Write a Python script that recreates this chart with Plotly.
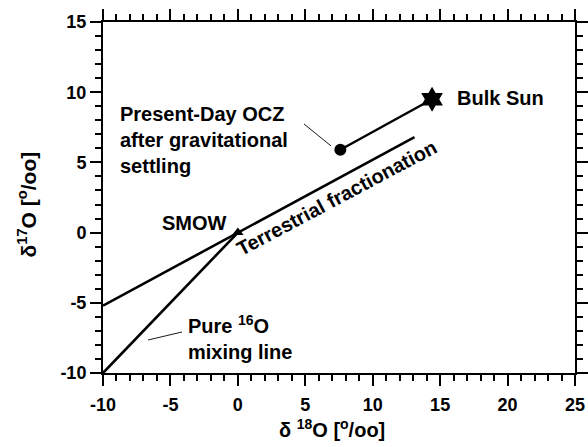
import plotly.graph_objects as go

# Data
terr_x = [-10, 13.1]
terr_y = [-5.2, 6.8]
mix_x = [-10, 0]
mix_y = [-10, 0]
sun_x = [7.6, 14.4]
sun_y = [5.9, 9.5]
smow_x = [0]
smow_y = [0]
ocz_leader_x = [4.9, 6.9]
ocz_leader_y = [7.74, 6.18]
mix_leader_x = [-6.66, -4.14]
mix_leader_y = [-7.65, -7.08]

x_ticks = [-10, -5, 0, 5, 10, 15, 20, 25]
x_ticktext = ["-10", "-5", "0", "5", "10", "15", "20", "25"]
y_ticks = [-10, -5, 0, 5, 10, 15]
y_ticktext = ["-10", "-5", "0", "5", "10", "15"]
x_minor = list(range(-10, 26))
y_minor = list(range(-10, 16))

FONT = "Liberation Sans, Arial, sans-serif"
fig = go.Figure()

def line(x, y, w):
    fig.add_trace(go.Scatter(x=x, y=y, mode="lines", line=dict(color="black", width=w),
                             showlegend=False, hoverinfo="skip"))

line(terr_x, terr_y, 2.6)
line(mix_x, mix_y, 2.6)
line(sun_x, sun_y, 2.4)
line(ocz_leader_x, ocz_leader_y, 0.9)
line(mix_leader_x, mix_leader_y, 0.9)

fig.add_trace(go.Scatter(x=smow_x, y=smow_y, mode="markers",
                         marker=dict(symbol="triangle-up", size=10, color="black"),
                         showlegend=False))
fig.add_trace(go.Scatter(x=[sun_x[0]], y=[sun_y[0]], mode="markers",
                         marker=dict(symbol="circle", size=12, color="black"),
                         showlegend=False))
fig.add_trace(go.Scatter(x=[sun_x[1]], y=[sun_y[1]], mode="markers",
                         marker=dict(symbol="hexagram", size=19, color="black",
                                     line=dict(width=0)),
                         showlegend=False))

af = dict(family=FONT, size=20, color="black")
anns = [
    dict(x=-8.89, y=6.6, text="<b>Present-Day OCZ<br>after gravitational<br>settling</b>",
         xanchor="left", yanchor="middle", align="left"),
    dict(x=16.1, y=9.59, text="<b>Bulk Sun</b>", xanchor="left", yanchor="middle"),
    dict(x=-5.77, y=0.68, text="<b>SMOW</b>", xanchor="left", yanchor="middle"),
    dict(x=-3.85, y=-7.44, text="<b>Pure <sup>16</sup>O<br>mixing line</b>",
         xanchor="left", yanchor="middle", align="left"),
    dict(x=7.3, y=2.5, text="<b>Terrestrial fractionation</b>", textangle=-28,
         xanchor="center", yanchor="middle"),
]
for a in anns:
    fig.add_annotation(showarrow=False, font=af, **a)

# Axis titles as paper-positioned annotations
fig.add_annotation(xref="paper", yref="paper", x=0.485, y=-0.2,
                   text="<b>δ <sup>18</sup>O [<sup>o</sup>/oo]</b>", showarrow=False,
                   xanchor="center", yanchor="bottom",
                   font=dict(family=FONT, size=20, color="black"))
fig.add_annotation(xref="paper", yref="paper", x=-0.161, y=0.48,
                   text="<b>δ<sup>17</sup>O [<sup>o</sup>/oo]</b>", showarrow=False,
                   textangle=-90, xanchor="center", yanchor="middle",
                   font=dict(family=FONT, size=21, color="black"))

axis_common = dict(
    showgrid=False, zeroline=False, showline=True, linecolor="black", linewidth=2,
    mirror="allticks", ticks="outside", ticklen=11, tickwidth=2, tickcolor="black",
    tickfont=dict(family=FONT, size=18, color="black"), automargin=False,
)

fig.update_xaxes(range=[-10, 25], tickvals=x_ticks, ticktext=["<b>%s</b>" % t for t in x_ticktext],
                 minor=dict(ticks="outside", ticklen=6, tickwidth=1.5, tickcolor="black",
                            tickvals=x_minor),
                 ticklabelstandoff=3,
                 **axis_common)
fig.update_yaxes(range=[-10, 15], tickvals=y_ticks, ticktext=["<b>%s</b>" % t for t in y_ticktext],
                 minor=dict(ticks="outside", ticklen=6, tickwidth=1.5, tickcolor="black",
                            tickvals=y_minor),
                 **axis_common)

fig.update_layout(width=588, height=447, margin=dict(l=103, r=13, t=22, b=74),
                  plot_bgcolor="white", paper_bgcolor="white")

fig.write_html("out.html", config={"displayModeBar": False},
               post_script="document.body.style.margin='0';")
